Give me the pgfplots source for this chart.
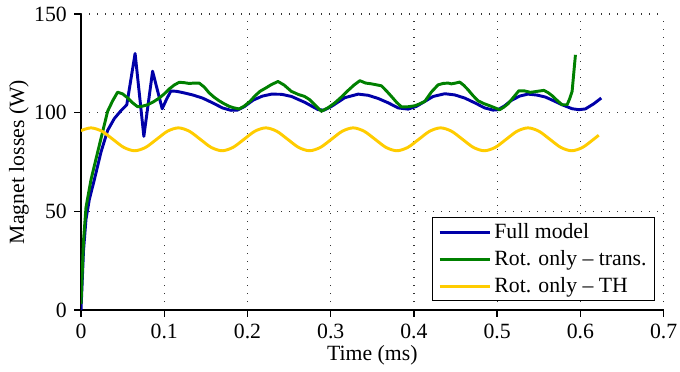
\documentclass[border=0pt]{standalone}
\usepackage{fontspec}
\setmainfont{Liberation Serif}
\usepackage{pgfplots}
\pgfplotsset{compat=1.18}

\definecolor{fullblue}{RGB}{0,0,168}
\definecolor{transgreen}{RGB}{0,128,0}
\definecolor{thyellow}{RGB}{255,204,0}

\newcommand{\figfont}{\fontsize{16.3}{19.5}\selectfont}

\begin{document}
\figfont
\begin{tikzpicture}
% fixed page frame around the axis
\path[use as bounding box] (-60.75pt,-45.75pt) rectangle (449.25pt,232.5pt);
\begin{axis}[
  scale only axis,
  width=437pt, height=222pt,
  xmin=0, xmax=0.7, ymin=0, ymax=150,
  xtick={0,0.1,...,0.7},
  ytick={0,50,100,150},
  axis x line*=bottom, axis y line*=left,
  axis line style={-, line width=1.1pt},
  tick align=outside,
  major tick length=5pt,
  tick style={line width=1.1pt, black},
  grid=major,
  major grid style={black!80, line width=0.9pt, dash pattern=on 0.9pt off 5.1pt},
  /pgf/number format/assume math mode=true,
  tick label style={font=\figfont},
  label style={font=\figfont},
  xticklabel style={/pgf/number format/fixed, /pgf/number format/precision=1},
  xlabel={Time (ms)},
  ylabel={Magnet losses (W)},
  xlabel style={yshift=6pt},
  ylabel style={yshift=-7pt},
  legend cell align=left,
  legend style={at={(0.985,0.03)}, anchor=south east, draw=black, line width=0.6pt,
    font=\figfont, inner xsep=4pt, inner ysep=2pt,
    row sep=2.5pt},
  legend image code/.code={\draw[#1, line width=2.2pt] (0pt,0pt) -- (38pt,0pt);},
]
% full transient model
\addplot[fullblue, line width=2.2pt, line join=round] coordinates {
(0,0) (0.003,30) (0.006,46) (0.010,56) (0.016,66) (0.024,80) (0.032,91) (0.040,97)
(0.048,101) (0.055,104) (0.065,130) (0.0755,88) (0.086,121) (0.0975,102) (0.103,107)
(0.108,111) (0.115,110.8) (0.122,110.2) (0.134,109) (0.146,107.4) (0.158,105)
(0.170,102.4) (0.180,101.2) (0.188,101.3) (0.196,103) (0.207,106.4) (0.218,108.4)
(0.229,109.4) (0.241,109.3) (0.253,108.2) (0.269,105.2) (0.285,101.5) (0.292,101.3)
(0.301,103.2) (0.317,107.6) (0.333,109.4) (0.345,108.8) (0.357,107.2) (0.369,105)
(0.381,102.4) (0.393,101.8) (0.403,103.2) (0.413,105.7) (0.423,108.2) (0.437,109.6)
(0.449,109) (0.461,107.4) (0.473,105) (0.485,102.4) (0.495,101.3) (0.501,101.5)
(0.509,103.5) (0.517,106.2) (0.527,108.4) (0.537,109.4) (0.548,108.9) (0.558,107.9)
(0.568,106) (0.578,104) (0.590,102) (0.598,101.5) (0.606,101.9) (0.616,104.5)
(0.625,107.4)
};
\addlegendentry{Full model}
% rotor-only, transient
\addplot[transgreen, line width=2.2pt, line join=round] coordinates {
(0,3) (0.003,35) (0.006,52) (0.012,66) (0.020,80) (0.032,100.7) (0.038,106)
(0.044,110.4) (0.050,109.5) (0.056,107.5) (0.062,105) (0.068,103) (0.074,103.3)
(0.080,104) (0.087,105.5) (0.094,107.4) (0.100,109.5) (0.106,112) (0.112,114)
(0.118,115.4) (0.124,115.2) (0.130,114.8) (0.136,115) (0.142,115) (0.148,113)
(0.154,110) (0.160,107.8) (0.166,106) (0.172,104.5) (0.178,103.2) (0.184,102.4)
(0.190,101.9) (0.196,103.3) (0.203,105.7) (0.209,108.5) (0.215,110.8) (0.222,112.5)
(0.229,114.3) (0.2367,115.8) (0.244,114) (0.2527,110.8) (0.2607,109.3) (0.2687,108.2)
(0.275,106.5) (0.282,103.5) (0.2888,100.7) (0.2968,102.5) (0.3048,104.9) (0.313,108)
(0.321,111.3) (0.328,114) (0.335,116.2) (0.342,115) (0.349,114.6) (0.355,114.1)
(0.361,113.6) (0.367,111) (0.373,108.2) (0.379,105.3) (0.385,102.9) (0.393,103)
(0.401,103.5) (0.407,104.5) (0.413,105.7) (0.421,110.5) (0.429,114.1) (0.435,114.8)
(0.441,115) (0.445,114.6) (0.450,115) (0.455,115.5) (0.460,113.8) (0.465,111.6)
(0.471,108.6) (0.477,106) (0.484,104.6) (0.491,103.5) (0.497,102.5) (0.503,101.5)
(0.508,102.8) (0.513,104.5) (0.520,108) (0.526,111.1) (0.533,111) (0.540,110.3)
(0.548,110.8) (0.556,111.3) (0.561,110.2) (0.566,108.6) (0.572,106.2) (0.578,104)
(0.584,104) (0.587,107) (0.590,110.8) (0.594,129.3)
};
\addlegendentry{Rot. only -- trans.}
% rotor-only, time-harmonic
\addplot[thyellow, line width=2.2pt, smooth] coordinates {
(0,90.9) (0.012,92.3) (0.0251,90.6) (0.0383,86.5) (0.0514,82.4) (0.0645,80.7)
(0.0776,82.4) (0.0908,86.5) (0.1039,90.6) (0.117,92.3) (0.1301,90.6) (0.1433,86.5)
(0.1564,82.4) (0.1695,80.7) (0.1826,82.4) (0.1958,86.5) (0.2089,90.6) (0.222,92.3)
(0.2351,90.6) (0.2483,86.5) (0.2614,82.4) (0.2745,80.7) (0.2876,82.4) (0.3008,86.5)
(0.3139,90.6) (0.327,92.3) (0.3401,90.6) (0.3533,86.5) (0.3664,82.4) (0.3795,80.7)
(0.3926,82.4) (0.4058,86.5) (0.4189,90.6) (0.432,92.3) (0.4451,90.6) (0.4583,86.5)
(0.4714,82.4) (0.4845,80.7) (0.4976,82.4) (0.5108,86.5) (0.5239,90.6) (0.537,92.3)
(0.5501,90.6) (0.5633,86.5) (0.5764,82.4) (0.5895,80.7) (0.6026,82.4) (0.6158,86.5)
(0.622,88.6)
};
\addlegendentry{Rot. only -- TH}
\end{axis}
\end{tikzpicture}
\end{document}
